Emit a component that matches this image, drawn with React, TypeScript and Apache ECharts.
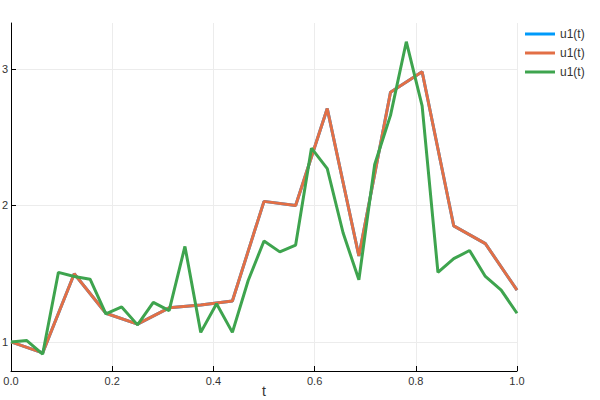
import React, { useEffect, useRef } from "react";
import * as echarts from "echarts";

const tCoarse = [0, 0.0625, 0.125, 0.1875, 0.25, 0.3125, 0.375, 0.4375, 0.5, 0.5625, 0.625, 0.6875, 0.75, 0.8125, 0.875, 0.9375, 1.0];
const u1Blue = [1.0, 0.92, 1.5, 1.21, 1.13, 1.25, 1.27, 1.3, 2.03, 2.0, 2.71, 1.63, 2.83, 2.98, 1.85, 1.72, 1.38];
const u1Orange = [1.0, 0.92, 1.5, 1.21, 1.13, 1.25, 1.27, 1.3, 2.03, 2.0, 2.71, 1.63, 2.83, 2.98, 1.85, 1.72, 1.38];
const tFine = [
  0, 0.03125, 0.0625, 0.09375, 0.125, 0.15625, 0.1875, 0.21875, 0.25, 0.28125, 0.3125, 0.34375,
  0.375, 0.40625, 0.4375, 0.46875, 0.5, 0.53125, 0.5625, 0.59375, 0.625, 0.65625, 0.6875, 0.71875,
  0.75, 0.78125, 0.8125, 0.84375, 0.875, 0.90625, 0.9375, 0.96875, 1.0,
];
const u1Green = [
  1.0, 1.01, 0.91, 1.51, 1.48, 1.46, 1.205, 1.256, 1.125, 1.29, 1.23, 1.7,
  1.07, 1.28, 1.07, 1.45, 1.74, 1.66, 1.71, 2.42, 2.27, 1.8, 1.455, 2.3,
  2.66, 3.2, 2.73, 1.51, 1.61, 1.67, 1.48, 1.38, 1.21,
];
const xTicks = [0, 0.2, 0.4, 0.6, 0.8, 1.0];
const yTicks = [1, 2, 3];
const seriesNames = ["u1(t)", "u1(t)", "u1(t)"];
const colors = ["#009AFA", "#E26F46", "#3EA44E"];

const FONT = "Liberation Sans";

export default function App() {
  const ref = useRef<HTMLDivElement>(null);
  useEffect(() => {
    if (!ref.current) return;
    const chart = echarts.init(ref.current, undefined, { renderer: "svg" });
    const zip = (xs: number[], ys: number[]) => xs.map((x, i) => [x, ys[i]]);
    chart.setOption({
      animation: false,
      backgroundColor: "#ffffff",
      grid: { left: 11, right: 83, top: 23, bottom: 29, containLabel: false, outerBoundsMode: "none" },
      legend: {
        orient: "vertical",
        left: 525,
        top: 27,
        padding: 0,
        itemWidth: 30,
        itemHeight: 3,
        itemGap: 5,
        icon: "rect",
        textStyle: { fontFamily: FONT, fontSize: 12, lineHeight: 14, color: "#333" },
        data: [
          { name: "s1", icon: "rect" },
          { name: "s2", icon: "rect" },
          { name: "s3", icon: "rect" },
        ],
        formatter: (n: string) => seriesNames[Number(n.slice(1)) - 1],
      },
      xAxis: {
        type: "value",
        min: 0,
        max: 1,
        interval: 0.2,
        name: "t",
        nameLocation: "middle",
        nameGap: 13,
        nameMoveOverlap: false,
        nameTextStyle: { fontFamily: FONT, fontSize: 14, color: "#333", verticalAlign: "top" },
        axisLine: { show: true, onZero: false, lineStyle: { color: "#000", width: 1 } },
        axisTick: { show: true, inside: true, length: 5, lineStyle: { color: "#000" }, customValues: xTicks },
        axisLabel: {
          fontFamily: FONT,
          fontSize: 11,
          color: "#333",
          margin: 4,
          customValues: xTicks,
          formatter: (v: number) => v.toFixed(1),
        },
        splitLine: { show: true, lineStyle: { color: "#ececec", width: 1 } },
      },
      yAxis: {
        type: "value",
        min: 0.787,
        max: 3.337,
        axisLine: { show: true, onZero: false, lineStyle: { color: "#000", width: 1 } },
        axisTick: { show: true, inside: true, length: 5, lineStyle: { color: "#000" }, customValues: yTicks },
        axisLabel: {
          fontFamily: FONT,
          fontSize: 11,
          color: "#333",
          margin: 3,
          customValues: yTicks,
          formatter: (v: number) => String(v),
        },
        splitLine: { show: true, lineStyle: { color: "#ececec", width: 1 } },
      },
      series: [
        { name: "s1", type: "line", data: zip(tCoarse, u1Blue), color: colors[0], showSymbol: false, lineStyle: { width: 3 } },
        { name: "s2", type: "line", data: zip(tCoarse, u1Orange), color: colors[1], showSymbol: false, lineStyle: { width: 3 } },
        { name: "s3", type: "line", data: zip(tFine, u1Green), color: colors[2], showSymbol: false, lineStyle: { width: 3 } },
      ],
    });
    return () => chart.dispose();
  }, []);
  return <div ref={ref} style={{ width: 600, height: 400, position: "absolute", left: 0, top: 0 }} />;
}
